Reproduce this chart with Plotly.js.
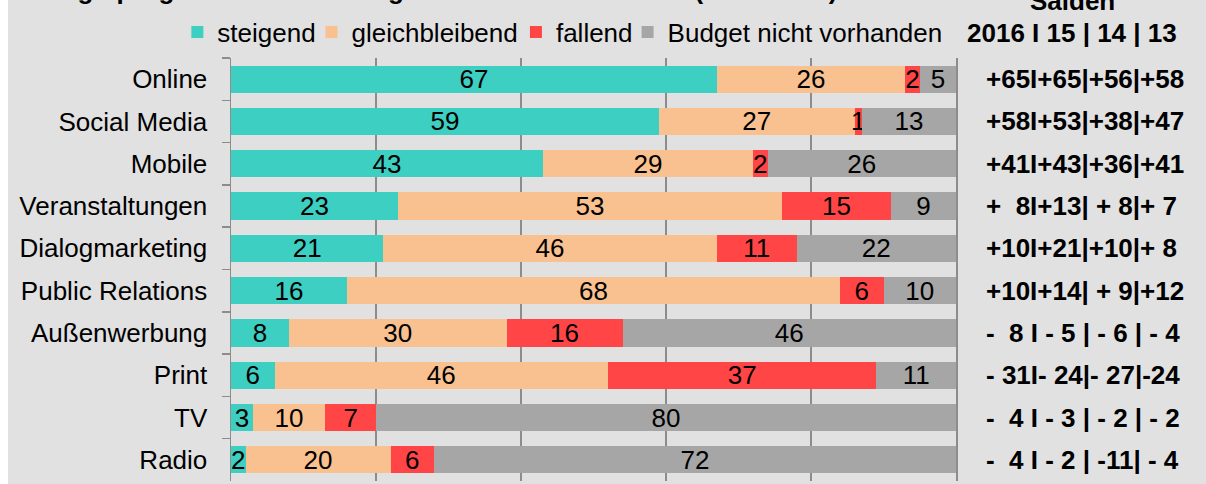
<!DOCTYPE html>
<html>
<head>
<meta charset="utf-8">
<script src="https://cdn.plot.ly/plotly-3.0.1.min.js"></script>
<style>html,body{margin:0;padding:0;background:#fff;}#chart{width:1206px;height:484px;}</style>
</head>
<body>
<div id="chart"></div>
<script>
const categories = ["Online", "Social Media", "Mobile", "Veranstaltungen", "Dialogmarketing", "Public Relations", "Außenwerbung", "Print", "TV", "Radio"];
const steigend = [67, 59, 43, 23, 21, 16, 8, 6, 3, 2];
const gleichbleibend = [26, 27, 29, 53, 46, 68, 30, 46, 10, 20];
const fallend = [2, 1, 2, 15, 11, 6, 16, 37, 7, 6];
const budgetNicht = [5, 13, 26, 9, 22, 10, 46, 11, 80, 72];
const salden = ["+65I+65|+56|+58", "+58I+53|+38|+47", "+41I+43|+36|+41", "+  8I+13| + 8|+ 7", "+10I+21|+10|+ 8", "+10I+14| + 9|+12", "-  8 I - 5 | - 6 | - 4", "- 31I- 24|- 27|-24", "-  4 I - 3 | - 2 | - 2", "-  4 I - 2 | -11| - 4"];
const seriesNames = ["steigend", "gleichbleibend", "fallend", "Budget nicht vorhanden"];
const saldenTitle = "Salden";
const saldenYears = "2016 I 15 | 14 | 13";
const chartTitle = "Budgetprognose: Entwicklung der Etats im Jahr 2016 (in Prozent)";

const FONT = "Liberation Sans, Arial, sans-serif";
const colors = ["#3ccfc2", "#f9c18f", "#ff4545", "#a6a6a6"];
const seriesData = [steigend, gleichbleibend, fallend, budgetNicht];
const legendIds = ["legend", "legend2", "legend3", "legend4"];
// left edge of each legend entry box, in paper fraction of the plot width
const legendX = [-0.074, 0.111, 0.393, 0.547];

const traces = seriesData.map((vals, i) => ({
  type: "bar",
  orientation: "h",
  name: seriesNames[i],
  legend: legendIds[i],
  y: categories,
  x: vals,
  text: vals.map(String),
  textposition: "inside",
  insidetextanchor: "middle",
  textangle: 0,
  constraintext: "none",
  textfont: {family: FONT, size: 26, color: "#000"},
  marker: {color: colors[i], line: {width: 0}},
  hoverinfo: "skip"
}));

const nb = s => s.replace(/ /g, "\u00a0");

const annotations = categories.map((c, i) => ({
  xref: "paper", yref: "y",
  x: 1.0385, y: c,
  xanchor: "left", yanchor: "middle",
  text: "<b>" + nb(salden[i]) + "</b>",
  showarrow: false,
  font: {family: FONT, size: 26, color: "#000"}
}));
annotations.push({
  xref: "paper", yref: "paper", x: 1.16, y: 1.135,
  xanchor: "center", yanchor: "middle",
  text: "<b>" + saldenTitle + "</b>", showarrow: false,
  font: {family: FONT, size: 26, color: "#000"}
});
annotations.push({
  xref: "paper", yref: "paper", x: 1.16, y: 1.059,
  xanchor: "center", yanchor: "middle",
  text: "<b>" + nb(saldenYears) + "</b>", showarrow: false,
  font: {family: FONT, size: 26, color: "#000"}
});
annotations.push({
  xref: "paper", yref: "paper", x: -0.284, y: 1.161,
  xanchor: "left", yanchor: "middle",
  text: "<b>" + chartTitle + "</b>", showarrow: false,
  font: {family: FONT, size: 26, color: "#000"}
});

const layout = {
  width: 1206, height: 484,
  margin: {l: 231, r: 250, t: 58, b: 3, pad: 0, autoexpand: false},
  paper_bgcolor: "#e1e1e1",
  plot_bgcolor: "rgba(0,0,0,0)",
  barmode: "stack",
  bargap: 0.355,
  showlegend: true,
  xaxis: {
    range: [0, 100], dtick: 20, showgrid: true, gridcolor: "#8c8c8c", gridwidth: 1.5,
    showticklabels: false, zeroline: false, showline: false, ticks: "", fixedrange: true
  },
  yaxis: {
    autorange: "reversed", type: "category",
    showline: true, linecolor: "#8c8c8c", linewidth: 1.5, mirror: true,
    ticks: "outside", tickson: "boundaries", ticklen: 8, tickcolor: "#8c8c8c", tickwidth: 1.5,
    showgrid: false, zeroline: false, ticklabelstandoff: 17,
    tickfont: {family: FONT, size: 26, color: "#000"}, fixedrange: true
  },
  annotations: annotations,
  shapes: [{
    type: "rect", xref: "paper", yref: "paper",
    x0: -0.33, x1: -0.3076, y0: -0.2, y1: 1.3,
    fillcolor: "#ffffff", line: {width: 0}, layer: "above"
  }],
  font: {family: FONT, size: 26, color: "#000"}
};
legendIds.forEach((id, i) => {
  layout[id] = {
    orientation: "h", x: legendX[i], xanchor: "left", y: 1.061, yanchor: "middle",
    font: {family: FONT, size: 26, color: "#000"},
    bgcolor: "rgba(0,0,0,0)", borderwidth: 0
  };
});

Plotly.newPlot("chart", traces, layout, {displayModeBar: false, staticPlot: true});
</script>
</body>
</html>
